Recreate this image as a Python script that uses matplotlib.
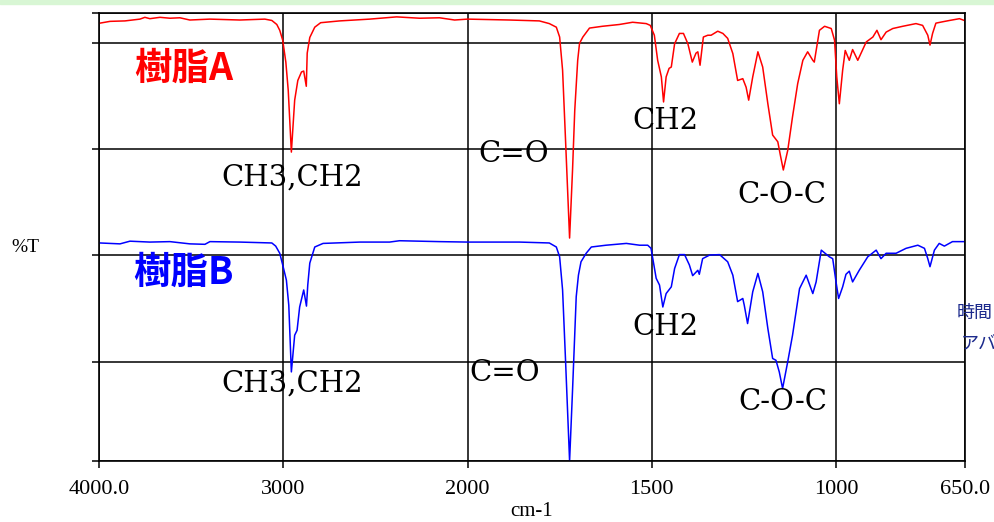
import numpy as np
import matplotlib
matplotlib.use("Agg")
import matplotlib.pyplot as plt
from matplotlib.patches import Rectangle

# IR spectra: wavenumber (cm-1) and %T on the shared axis
wn_a = [3995, 3940, 3859, 3778, 3751, 3724, 3669, 3615, 3561, 3507, 3398, 3236, 3100, 3062,
        3035, 3019, 3003, 2986, 2973, 2956, 2938, 2921, 2901, 2889, 2875, 2870, 2856, 2829,
        2797, 2694, 2531, 2385, 2260, 2152, 2070, 2000, 1886, 1805, 1778, 1759, 1750, 1742,
        1734, 1723, 1715, 1709, 1701, 1696, 1687, 1669, 1634, 1588, 1552, 1515, 1504, 1493,
        1484, 1474, 1468, 1461, 1453, 1447, 1438, 1425, 1414, 1402, 1390, 1380, 1375, 1369,
        1360, 1348, 1339, 1321, 1307, 1294, 1280, 1267, 1253, 1244, 1237, 1226, 1212, 1199,
        1185, 1172, 1158, 1151, 1143, 1131, 1118, 1104, 1090, 1077, 1063, 1059, 1045, 1031,
        1013, 1004, 998, 991, 982, 975, 964, 955, 941, 918, 900, 889, 878, 864, 846, 819,
        783, 765, 751, 745, 738, 729, 711, 692, 665, 652]
t_a = [97.8, 98.2, 98.3, 98.7, 99.1, 98.8, 99.1, 98.9, 99.0, 98.5, 98.7, 98.5, 98.7, 98.4,
       97.5, 96.2, 94.0, 89.1, 82.8, 69.0, 80.6, 85.0, 86.9, 87.1, 83.7, 91.1, 94.6, 96.9,
       97.9, 98.3, 98.7, 99.2, 98.9, 99.0, 98.5, 98.7, 98.5, 98.3, 97.7, 96.9, 94.7, 87.3,
       71.7, 49.8, 65.0, 78.3, 89.5, 93.3, 94.7, 96.7, 97.1, 97.5, 98.0, 97.7, 97.3, 95.1,
       89.5, 85.8, 80.2, 85.8, 87.7, 88.0, 93.2, 95.5, 95.5, 93.2, 89.1, 91.1, 91.4, 88.4,
       94.7, 95.1, 95.1, 96.0, 95.5, 94.4, 91.0, 85.0, 85.4, 83.5, 80.6, 85.8, 91.4, 88.0,
       79.8, 72.8, 71.3, 68.3, 65.0, 69.4, 76.9, 84.3, 89.5, 91.4, 89.5, 89.1, 96.2, 97.1,
       96.6, 94.0, 85.8, 79.8, 87.3, 91.7, 89.5, 91.9, 89.5, 93.6, 94.7, 96.2, 94.1, 95.8,
       96.6, 97.1, 97.7, 97.3, 95.1, 92.9, 95.5, 97.8, 98.1, 98.4, 98.8, 98.4]

wn_b = [3995, 3886, 3832, 3724, 3615, 3507, 3425, 3398, 3236, 3062, 3041, 3019, 3003, 2983,
        2970, 2956, 2938, 2925, 2911, 2889, 2874, 2867, 2856, 2829, 2784, 2584, 2423, 2369,
        2152, 2000, 1859, 1778, 1759, 1750, 1742, 1734, 1723, 1715, 1705, 1699, 1692, 1678,
        1664, 1624, 1569, 1533, 1511, 1502, 1488, 1479, 1470, 1461, 1447, 1438, 1425, 1411,
        1398, 1389, 1375, 1371, 1362, 1343, 1316, 1294, 1280, 1267, 1253, 1249, 1240, 1226,
        1212, 1199, 1185, 1172, 1163, 1154, 1145, 1131, 1118, 1099, 1081, 1063, 1054, 1040,
        1018, 1009, 1000, 993, 982, 973, 964, 955, 937, 914, 891, 878, 864, 837, 810, 778,
        760, 751, 745, 733, 720, 706, 684, 652]
t_b = [48.7, 48.5, 49.1, 48.9, 49.0, 48.5, 48.4, 49.0, 48.9, 48.7, 48.0, 46.4, 43.8, 40.4,
       34.8, 19.9, 28.1, 29.2, 34.4, 38.2, 34.6, 39.3, 44.2, 47.8, 48.6, 48.9, 48.9, 49.2,
       49.0, 48.9, 48.9, 48.7, 47.8, 45.6, 38.2, 22.5, 0.0, 15.8, 36.7, 41.5, 44.5, 46.4,
       47.8, 48.2, 48.6, 48.2, 48.2, 47.5, 40.8, 39.3, 34.4, 37.4, 38.9, 43.0, 46.1, 46.1,
       43.8, 41.4, 42.6, 41.7, 45.2, 46.0, 46.1, 44.5, 41.5, 35.6, 36.3, 34.8, 30.7, 37.8,
       41.9, 37.8, 29.6, 22.9, 22.5, 19.9, 16.2, 22.2, 28.1, 38.5, 41.5, 37.4, 40.0, 47.1,
       45.6, 45.2, 40.0, 36.3, 38.9, 41.7, 42.4, 40.0, 42.6, 45.6, 47.1, 45.2, 46.4, 46.4,
       47.5, 48.2, 47.5, 45.2, 43.4, 47.1, 48.6, 48.0, 49.0, 49.0]

x_ticks = [4000, 3000, 2000, 1500, 1000, 650]
x_tick_labels = ["4000.0", "3000", "2000", "1500", "1000", "650.0"]
y_ticks = [0, 22.2, 46.0, 69.6, 93.4, 100]

peaks = ["CH3,CH2", "C=O", "CH2", "C-O-C"]


# x axis: 1000 cm-1 per unit above 2000, 500 cm-1 per unit below
def fwd(w):
    w = np.asarray(w, dtype=float)
    return np.where(w >= 2000, w / 1000.0, (w - 1000.0) / 500.0)


def inv(u):
    u = np.asarray(u, dtype=float)
    return np.where(u >= 2, u * 1000.0, u * 500.0 + 1000.0)


fig = plt.figure(figsize=(9.94, 5.22), dpi=100)
ax = fig.add_axes([99 / 994, 61 / 522, 866 / 994, 447.7 / 522])
fig.patches.append(Rectangle((0, 1 - 4 / 522), 1, 4 / 522, transform=fig.transFigure,
                             color="#d8f6d4", zorder=0))

ax.plot(wn_a, t_a, color="#ff0000", lw=1.1)
ax.plot(wn_b, t_b, color="#0000ff", lw=1.1)

ax.set_xscale("function", functions=(fwd, inv))
ax.set_xlim(4000, 650)
ax.set_ylim(0, 100)
ax.set_xticks(x_ticks)
ax.set_xticklabels(x_tick_labels, fontfamily="Liberation Serif", fontsize=16)
ax.set_yticks(y_ticks)
ax.set_yticklabels([])
ax.minorticks_off()
ax.tick_params(direction="out", length=5, width=1.1, color="black", pad=9)
ax.grid(True, color="black", lw=1.1)
for s in ax.spines.values():
    s.set_linewidth(1.2)

ax.set_xlabel("cm-1", fontfamily="Liberation Serif", fontsize=15, labelpad=2)
fig.text(25 / 994, 1 - 248 / 522, "%T", fontfamily="Liberation Serif", fontsize=14,
         ha="center", va="center")

# peak labels
lab = dict(fontfamily="DejaVu Serif", fontsize=21, ha="center", va="center")
ax.text(2954, 63.4, peaks[0], **lab)
ax.text(1875, 68.6, peaks[1], **lab)
ax.text(1463, 75.9, peaks[2], **lab)
ax.text(1148, 59.4, peaks[3], **lab)
ax.text(2954, 17.4, peaks[0], **lab)
ax.text(1900, 19.6, peaks[1], **lab)
ax.text(1463, 29.9, peaks[2], **lab)
ax.text(1145, 13.2, peaks[3], **lab)

cjk = ["Noto Sans CJK JP", "DejaVu Sans"]
ax.text(3539, 87.7, "樹脂A", color="#ff0000", fontfamily=cjk, fontweight="bold",
        fontsize=27, ha="center", va="center")
ax.text(3539, 42.2, "樹脂B", color="#0000ff", fontfamily=cjk, fontweight="bold",
        fontsize=27, ha="center", va="center")

# text cut off at the right edge, as in the source image
fig.text(957 / 994, 1 - 313 / 522, "時間", color="#1c2a8c", fontfamily=cjk,
         fontsize=13, ha="left", va="center")
fig.text(961 / 994, 1 - 344 / 522, "アバ", color="#1c2a8c", fontfamily=cjk,
         fontsize=13, ha="left", va="center")

fig.savefig("out.png", dpi=100)
